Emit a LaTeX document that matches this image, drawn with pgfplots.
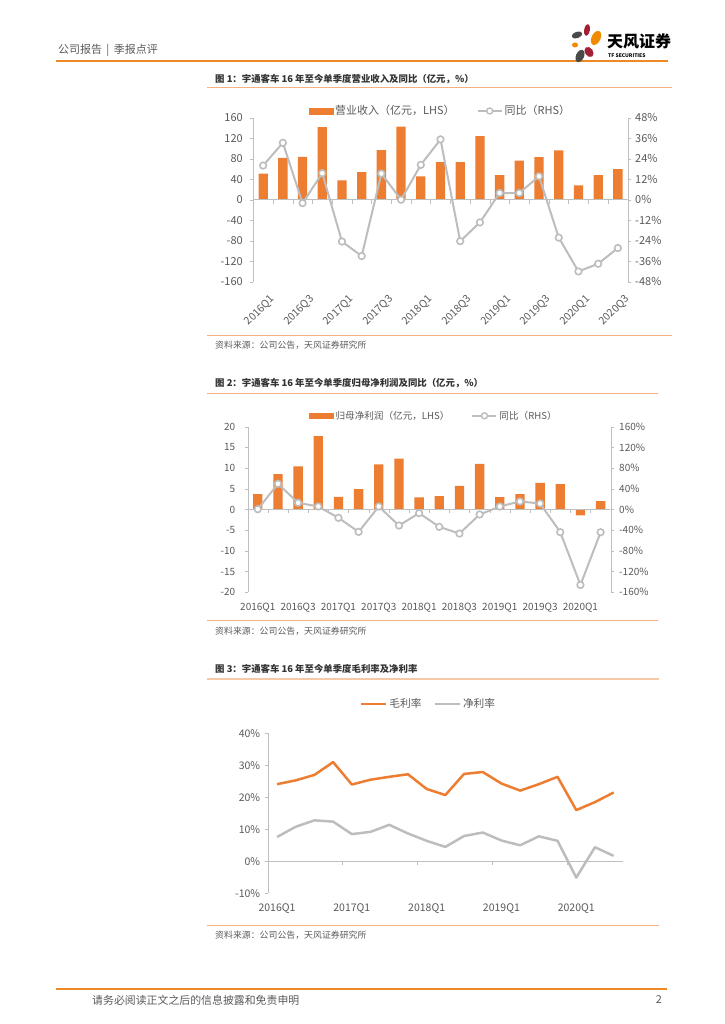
\documentclass[border=0pt]{standalone}
\usepackage{fontspec}
\setmainfont{Noto Sans CJK SC}
\usepackage{pgfplots}
\pgfplotsset{compat=1.18}
\definecolor{barorange}{HTML}{ED7D31}
\definecolor{linegray}{HTML}{BDBDBD}
\definecolor{textgray}{HTML}{595959}
\definecolor{axisgray}{HTML}{BFBFBF}
\definecolor{headorange}{HTML}{EC8A24}
\definecolor{titleline}{HTML}{F4B183}
\definecolor{logored}{HTML}{A31F34}
\definecolor{logogray}{HTML}{4A4A4A}
\definecolor{logoorange}{HTML}{F08A00}

\pgfplotsset{
  pagechart/.style={
    scale only axis, anchor=south west,
    /pgf/number format/assume math mode=true,
    tick label style={text=textgray},
    axis line style={axisgray}, tick style={axisgray},
    tick align=outside, major tick length=3pt,
  },
  legimgbar/.style={legend image code/.code={\fill[barorange] (0pt,-2.8pt) rectangle (24pt,2.8pt);}},
  legimgline/.style={legend image code/.code={%
    \draw[linegray,line width=2pt] (0pt,0pt) -- (24pt,0pt);
    \draw[linegray,line width=1.4pt,fill=white] (12pt,0pt) circle (3pt);}},
}

\begin{document}
\begin{tikzpicture}[x=1pt,y=1pt]
\useasboundingbox (0,0) rectangle (724,1024);

% page header
\node[anchor=west,text=textgray,font=\fontsize{11}{13}\selectfont,inner sep=0pt] at (58,974) {公司报告 \,|\, 季报点评};
\draw[headorange,line width=2.5pt] (56,963) -- (668,963);
\fill[logored,rotate around={-10:(587,994)}] (587,994) ellipse (2.8 and 6);
\fill[logoorange,rotate around={-25:(596,986)}] (596,986) ellipse (4.5 and 7.5);
\fill[logogray,rotate around={20:(577,989)}] (577,989) ellipse (5.5 and 3.2);
\fill[logoorange] (575,979) ellipse (3 and 2.5);
\fill[logored,rotate around={35:(589,972)}] (589,972) ellipse (4 and 5.5);
\fill[logogray,rotate around={-25:(580,968)}] (580,968) ellipse (4 and 6.5);
\node[anchor=west,inner sep=0pt,font=\fontsize{16}{18}\selectfont\bfseries] at (607,982.5) {天风证券};
\node[anchor=west,inner sep=0pt,font=\fontsize{5}{6}\selectfont\bfseries] at (608,968.5) {TF SECURITIES};

% ---------------- chart 1 ----------------
\node[anchor=west,inner sep=0pt,text=black!80,font=\fontsize{9.4}{11}\selectfont\bfseries] at (215,945) {图 1：宇通客车 16 年至今单季度营业收入及同比（亿元，\%）};
\draw[titleline,line width=1pt] (207,936) -- (672,936);

\begin{axis}[pagechart,
  at={(253.3pt,742.3pt)}, width=374.4pt, height=164pt,
  xmin=-0.5, xmax=18.5, ymin=-160, ymax=160,
  ytick={-160,-120,...,160},
  axis y line*=left, axis x line*=bottom,
  x axis line style={draw=none}, xtick style={draw=none},
  xtick={0,2,...,18},
  xticklabels={2016Q1,2016Q3,2017Q1,2017Q3,2018Q1,2018Q3,2019Q1,2019Q3,2020Q1,2020Q3},
  tick label style={font=\fontsize{11}{13}\selectfont},
  xticklabel style={rotate=45,anchor=north east,inner sep=0pt,xshift=-2pt,yshift=-11pt,
    font=\fontsize{10.5}{12}\selectfont},
  yticklabel style={xshift=-4pt},
  ybar, bar width=9.3pt,
]
\addplot[fill=barorange,draw=none] coordinates {
(0,51) (1,81.6) (2,83.6) (3,141.7) (4,37.9) (5,53.6) (6,96.7) (7,142.4) (8,45.7) (9,73.1)
(10,73.1) (11,124) (12,47.7) (13,76.4) (14,82.9) (15,96) (16,28) (17,47.7) (18,59.4)};
\draw[axisgray] (axis cs:-0.5,0) -- (axis cs:18.5,0);
\pgfplotsinvokeforeach{0.5,1.5,...,18.5}{\draw[axisgray] (axis cs:#1,0) -- ([yshift=-4pt]axis cs:#1,0);}
\end{axis}

\begin{axis}[pagechart,
  at={(253.3pt,742.3pt)}, width=374.4pt, height=164pt,
  xmin=-0.5, xmax=18.5, ymin=-48, ymax=48,
  ytick={-48,-36,...,48},
  yticklabel={\pgfmathprintnumber{\tick}\%},
  yticklabel style={xshift=1pt},
  axis y line*=right, axis x line=none,
  tick label style={font=\fontsize{11}{13}\selectfont},
  legend columns=2,
  legend style={at={(0.5,1.041)},anchor=center,draw=none,fill=none,
    font=\fontsize{11}{13}\selectfont,text=textgray,inner sep=0pt,
    /tikz/every even column/.append style={column sep=20pt}},
]
\addlegendimage{legimgbar}
\addlegendentry{营业收入（亿元，LHS）}
\addplot[linegray,line width=2pt,mark=*,mark size=3.3pt,
  mark options={fill=white,draw=linegray,line width=1.6pt},legimgline] coordinates {
(0,20.0) (1,33.3) (2,-2.0) (3,15.5) (4,-24.5) (5,-33.0) (6,15.3) (7,0) (8,20.4) (9,35.3)
(10,-24.3) (11,-13.3) (12,3.9) (13,3.9) (14,13.7) (15,-22.2) (16,-42.0) (17,-37.5) (18,-28.3)};
\addlegendentry{同比（RHS）}
\end{axis}

\draw[titleline,line width=1pt] (207,688.7) -- (672,688.7);
\node[anchor=west,inner sep=0pt,text=textgray,font=\fontsize{8.9}{10}\selectfont] at (215,678.3) {资料来源：公司公告，天风证券研究所};

% ---------------- chart 2 ----------------
\node[anchor=west,inner sep=0pt,text=black!80,font=\fontsize{9.4}{11}\selectfont\bfseries] at (215,640.7) {图 2：宇通客车 16 年至今单季度归母净利润及同比（亿元，\%）};
\draw[titleline,line width=1pt] (207,630.7) -- (658,630.7);

\begin{axis}[pagechart,
  at={(247.7pt,431.7pt)}, width=363pt, height=165.6pt,
  xmin=-0.5, xmax=17.5, ymin=-20, ymax=20,
  ytick={-20,-15,...,20},
  axis y line*=left, axis x line*=bottom,
  x axis line style={draw=none}, xtick style={draw=none},
  xtick={0,2,...,16},
  xticklabels={2016Q1,2016Q3,2017Q1,2017Q3,2018Q1,2018Q3,2019Q1,2019Q3,2020Q1},
  xticklabel style={anchor=north,yshift=-4pt},
  yticklabel style={xshift=-6pt},
  tick label style={font=\fontsize{10}{12}\selectfont},
  ybar, bar width=9.3pt,
]
\addplot[fill=barorange,draw=none] coordinates {
(0,3.7) (1,8.55) (2,10.4) (3,17.7) (4,3.06) (5,4.9) (6,10.9) (7,12.3) (8,2.9)
(9,3.2) (10,5.7) (11,11.0) (12,3.0) (13,3.7) (14,6.4) (15,6.1) (16,-1.4) (17,2.0)};
\draw[axisgray] (axis cs:-0.5,0) -- (axis cs:17.5,0);
\pgfplotsinvokeforeach{0.5,1.5,...,17.5}{\draw[axisgray] (axis cs:#1,0) -- ([yshift=-4pt]axis cs:#1,0);}
\end{axis}

\begin{axis}[pagechart,
  at={(247.7pt,431.7pt)}, width=363pt, height=165.6pt,
  xmin=-0.5, xmax=17.5, ymin=-160, ymax=160,
  ytick={-160,-120,...,160},
  yticklabel={\pgfmathprintnumber{\tick}\%},
  yticklabel style={xshift=2pt},
  axis y line*=right, axis x line=none,
  tick label style={font=\fontsize{10}{12}\selectfont},
  legend columns=2,
  legend style={at={(0.513,1.066)},anchor=center,draw=none,fill=none,
    font=\fontsize{9.6}{12}\selectfont,text=textgray,inner sep=0pt,
    /tikz/every even column/.append style={column sep=20pt}},
]
\addlegendimage{legimgbar}
\addlegendentry{归母净利润（亿元，LHS）}
\addplot[linegray,line width=2pt,mark=*,mark size=3.3pt,
  mark options={fill=white,draw=linegray,line width=1.6pt},legimgline] coordinates {
(0,0.5) (1,49.7) (2,12.9) (3,5.8) (4,-16.1) (5,-43.2) (6,5.8) (7,-31) (8,-7)
(9,-33.5) (10,-46.5) (11,-9.7) (12,5.8) (13,15.5) (14,11.6) (15,-43.9) (16,-145.8) (17,-43.9)};
\addlegendentry{同比（RHS）}
\end{axis}

\draw[titleline,line width=1pt] (207,403) -- (658,403);
\node[anchor=west,inner sep=0pt,text=textgray,font=\fontsize{8.9}{10}\selectfont] at (215,393) {资料来源：公司公告，天风证券研究所};

% ---------------- chart 3 ----------------
\node[anchor=west,inner sep=0pt,text=black!80,font=\fontsize{9.4}{11}\selectfont\bfseries] at (215,354.7) {图 3：宇通客车 16 年至今单季度毛利率及净利率};
\draw[titleline!70,line width=1.6pt] (207,345) -- (659,345);

\begin{axis}[pagechart,
  at={(267.7pt,130.7pt)}, width=355.3pt, height=160pt,
  xmin=-0.5, xmax=18.5, ymin=-10, ymax=40,
  ytick={-10,0,...,40},
  yticklabel={\pgfmathprintnumber{\tick}\%},
  yticklabel style={xshift=-1pt},
  axis y line*=left, axis x line*=bottom,
  x axis line style={draw=none}, xtick style={draw=none},
  xtick={0,4,...,16},
  xticklabels={2016Q1,2017Q1,2018Q1,2019Q1,2020Q1},
  xticklabel style={anchor=north,yshift=-4pt},
  tick label style={font=\fontsize{10.5}{12}\selectfont},
  legend columns=2,
  legend style={at={(0.4526,1.183)},anchor=center,draw=none,fill=none,
    font=\fontsize{10.7}{13}\selectfont,text=textgray,inner sep=0pt,
    /tikz/every even column/.append style={column sep=10pt}},
  legend image code/.code={\draw[line width=2.5pt] (0pt,0pt) -- (25pt,0pt);},
]
\draw[axisgray] (axis cs:-0.5,0) -- (axis cs:18.5,0);
\pgfplotsinvokeforeach{3.5,7.5,11.5,15.5}{\draw[axisgray] (axis cs:#1,0) -- ([yshift=-4pt]axis cs:#1,0);}
\addplot[barorange,line width=2.5pt,line join=round] coordinates {
(0,24.1) (1,25.3) (2,27.0) (3,31.0) (4,24.0) (5,25.5) (6,26.4) (7,27.2) (8,22.6) (9,20.7)
(10,27.3) (11,27.9) (12,24.3) (13,22.1) (14,24.1) (15,26.4) (16,16.0) (17,18.5) (18,21.5)};
\addlegendentry{毛利率}
\addplot[linegray,line width=2.5pt,line join=round] coordinates {
(0,7.6) (1,10.8) (2,12.8) (3,12.4) (4,8.5) (5,9.2) (6,11.4) (7,8.7) (8,6.4) (9,4.5)
(10,7.9) (11,9.0) (12,6.5) (13,5.0) (14,7.8) (15,6.4) (16,-5.1) (17,4.4) (18,1.7)};
\addlegendentry{净利率}
\end{axis}

\draw[titleline,line width=1pt] (207,98.3) -- (659,98.3);
\node[anchor=west,inner sep=0pt,text=textgray,font=\fontsize{8.9}{10}\selectfont] at (215,88.3) {资料来源：公司公告，天风证券研究所};

% page footer
\draw[headorange,line width=2.5pt] (56,35) -- (667,35);
\node[anchor=west,inner sep=0pt,text=textgray,font=\fontsize{10.9}{13}\selectfont] at (92,24) {请务必阅读正文之后的信息披露和免责申明};
\node[anchor=east,inner sep=0pt,text=textgray,font=\fontsize{10.9}{13}\selectfont] at (662,24) {2};
\end{tikzpicture}
\end{document}
